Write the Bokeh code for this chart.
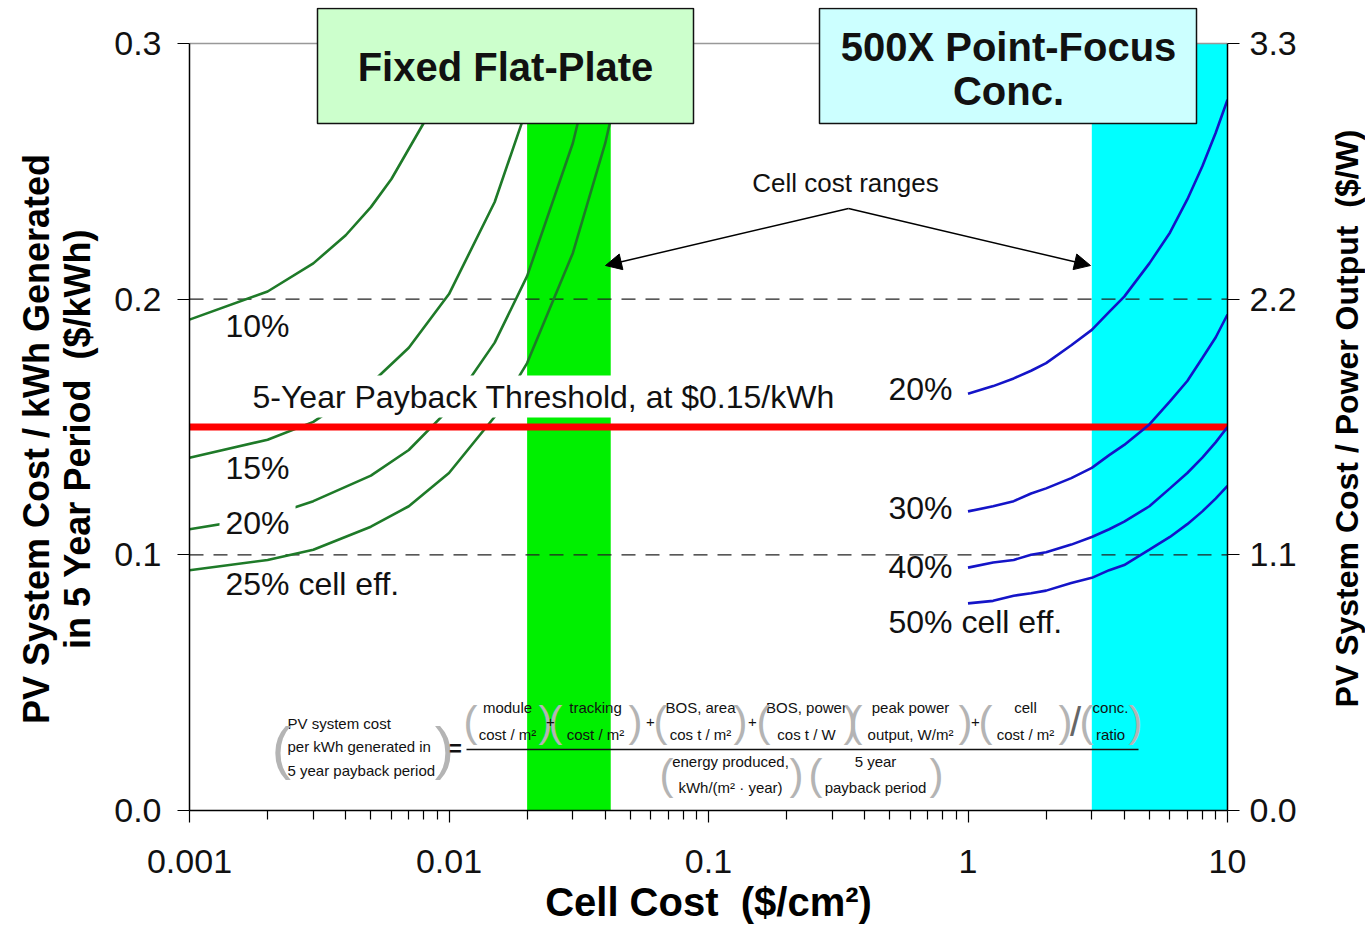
import math
from bokeh.plotting import figure
from bokeh.layouts import row
from bokeh.models import (Range1d, LinearAxis, FixedTicker, PrintfTickFormatter,
                          CustomJSTickFormatter, Label, Arrow, NormalHead)
from bokeh.embed import file_html
from bokeh.resources import INLINE

# ---------------- data ----------------
x_ticks = [0.001, 0.01, 0.1, 1, 10]
y_ticks_kwh = [0.0, 0.1, 0.2, 0.3]
y_ticks_w = [0.0, 1.1, 2.2, 3.3]

# Fixed flat-plate curves (cell cost $/cm2 -> $/kWh)
ff10_x = [0.001, 0.002, 0.003, 0.004, 0.005, 0.006, 0.008, 0.01]
ff10_y = [0.192, 0.203, 0.214, 0.225, 0.236, 0.247, 0.269, 0.291]
ff15_x = [0.001, 0.002, 0.003, 0.005, 0.007, 0.01, 0.015, 0.02, 0.025]
ff15_y = [0.138, 0.145, 0.152, 0.167, 0.181, 0.202, 0.238, 0.275, 0.311]
ff20_x = [0.001, 0.002, 0.003, 0.005, 0.007, 0.01, 0.015, 0.02, 0.03, 0.04]
ff20_y = [0.110, 0.115, 0.121, 0.131, 0.141, 0.157, 0.183, 0.209, 0.261, 0.313]
ff25_x = [0.001, 0.002, 0.003, 0.005, 0.007, 0.01, 0.015, 0.02, 0.03, 0.04, 0.05]
ff25_y = [0.094, 0.098, 0.102, 0.111, 0.119, 0.132, 0.154, 0.175, 0.218, 0.261, 0.304]

# 500X point-focus concentrator curves
conc_x = [1, 1.25, 1.5, 1.75, 2, 2.5, 3, 3.5, 4, 5, 6, 7, 8, 9, 10]
conc20_y = [0.163, 0.166, 0.169, 0.172, 0.175, 0.182, 0.188, 0.195, 0.201,
            0.214, 0.226, 0.239, 0.252, 0.265, 0.278]
conc30_y = [0.117, 0.119, 0.121, 0.124, 0.126, 0.130, 0.134, 0.139, 0.143,
            0.151, 0.160, 0.168, 0.177, 0.185, 0.194]
conc40_y = [0.095, 0.097, 0.098, 0.100, 0.101, 0.104, 0.107, 0.110, 0.113,
            0.119, 0.126, 0.132, 0.138, 0.144, 0.150]
conc50_y = [0.081, 0.082, 0.084, 0.085, 0.086, 0.089, 0.091, 0.094, 0.096,
            0.102, 0.107, 0.112, 0.117, 0.122, 0.127]

threshold = 0.15
ref_levels = [0.1, 0.2]
top_level = 0.3
ff_range = [0.02, 0.042]
conc_range = [3.0, 10.0]

# ---------------- layout helpers (reference pixel -> data) ----------------
FONT = "Liberation Sans"
NB = "\u00a0"
X0, X1 = 0.001, 10.0
PX_L, PX_R, PX_B, PX_T = 189, 1227, 810, 43
PX_DEC = (PX_R - PX_L) / 4.0
PX_UNIT = (PX_B - PX_T) / 0.3


def X(px):
    return 10 ** (math.log10(X0) + (px - PX_L) / PX_DEC)


def Y(py):
    return (PX_B - py) / PX_UNIT


FRAME_TOP = 7
BORDER_R = 80
BORDER_B = 115
YMAX = Y(FRAME_TOP)
TOTAL_H = FRAME_TOP + (PX_B - FRAME_TOP) + BORDER_B

p = figure(x_axis_type="log", x_range=Range1d(X0, X1), y_range=Range1d(0, YMAX),
           frame_width=PX_R - PX_L, frame_height=PX_B - FRAME_TOP,
           min_border_left=PX_L, min_border_right=BORDER_R, min_border_top=FRAME_TOP,
           min_border_bottom=BORDER_B,
           output_backend="svg", toolbar_location=None)
p.grid.visible = False
p.outline_line_color = None
p.background_fill_color = "white"
p.border_fill_color = "white"

# x axis
xa = p.xaxis[0]
minor = [k * d for d in [0.001, 0.01, 0.1, 1] for k in range(2, 10)]
xa.ticker = FixedTicker(ticks=x_ticks, minor_ticks=minor)
xa.formatter = CustomJSTickFormatter(code="return tick.toString();")
xa.axis_label = "Cell Cost" + NB + " ($/cm²)"
xa.axis_label_text_font = FONT
xa.axis_label_text_font_size = "40px"
xa.axis_label_text_font_style = "bold"
xa.axis_label_text_color = "black"
xa.axis_label_standoff = 4
xa.major_label_text_font = FONT
xa.major_label_text_font_size = "34px"
xa.major_label_text_color = "#111111"
xa.major_label_standoff = 27
xa.major_tick_out = 12
xa.major_tick_in = 0
xa.minor_tick_out = 9
xa.minor_tick_in = 0
xa.axis_line_width = 1.5
xa.major_tick_line_width = 1.2
xa.minor_tick_line_width = 1.2

# left axis
ya = p.yaxis[0]
ya.ticker = FixedTicker(ticks=y_ticks_kwh)
ya.formatter = PrintfTickFormatter(format="%.1f")
ya.bounds = (0, 0.3)
ya.major_label_text_font = FONT
ya.major_label_text_font_size = "34px"
ya.major_label_text_color = "#111111"
ya.major_label_standoff = 16
ya.major_tick_out = 12
ya.major_tick_in = 0
ya.minor_tick_out = 0
ya.minor_tick_in = 0
ya.axis_line_width = 1.5
ya.axis_label = ("PV System Cost / kWh Generated" + NB * 6 + "\n"
                 + "in 5 Year Period" + NB + " ($/kWh)" + NB * 6)
ya.axis_label_text_font = FONT
ya.axis_label_text_font_size = "36px"
ya.axis_label_text_font_style = "bold"
ya.axis_label_text_color = "black"
ya.axis_label_text_line_height = 1.0
ya.axis_label_standoff = 13

# right axis ($/W)
p.extra_y_ranges = {"pw": Range1d(0, YMAX * 11)}
ra = LinearAxis(y_range_name="pw", ticker=FixedTicker(ticks=y_ticks_w),
                formatter=PrintfTickFormatter(format="%.1f"), bounds=(0, 3.3))
ra.major_label_text_font = FONT
ra.major_label_text_font_size = "34px"
ra.major_label_text_color = "#111111"
ra.major_label_standoff = 10
ra.major_tick_out = 12
ra.major_tick_in = 0
ra.minor_tick_out = 0
ra.minor_tick_in = 0
ra.axis_line_width = 1.5
p.add_layout(ra, "right")

# bands
p.quad(left=[ff_range[0]], right=[ff_range[1]], bottom=[0], top=[top_level],
       fill_color="#00F000", line_color=None)
p.quad(left=[conc_range[0]], right=[conc_range[1]], bottom=[0], top=[top_level],
       fill_color="#00FFFF", line_color=None)

# reference lines
for lv in ref_levels:
    p.line([X0, X1], [lv, lv], line_color="#222222", line_width=1.3, line_dash="14 10")
p.line([X0, X1], [top_level, top_level], line_color="#999999", line_width=1.5)

GREEN = "#1E7A28"
BLUE = "#1414C8"
for xs, ys in [(ff10_x, ff10_y), (ff15_x, ff15_y), (ff20_x, ff20_y), (ff25_x, ff25_y)]:
    p.line(xs, ys, line_color=GREEN, line_width=2.6)

p.line([X0, X1], [threshold, threshold], line_color="#FF0000", line_width=7)

for ys in [conc20_y, conc30_y, conc40_y, conc50_y]:
    p.line(conc_x, ys, line_color=BLUE, line_width=2.6)

# title boxes
p.quad(left=[X(317)], right=[X(693)], top=[Y(8)], bottom=[Y(123)],
       fill_color="#CCFFCC", line_color="#111111", line_width=1.5)
p.quad(left=[X(819)], right=[X(1196)], top=[Y(8)], bottom=[Y(123)],
       fill_color="#CCFFFF", line_color="#111111", line_width=1.5)


def lab(px, py, text, size="32px", align="left", style="normal", color="#111111",
        angle=0.0, bg=None, pad=0, font=FONT):
    kw = dict(x=X(px), y=Y(py), text=text, text_font=font, text_font_size=size,
              text_align=align, text_baseline="middle", text_font_style=style,
              text_color=color, angle=angle)
    if bg is not None:
        kw["background_fill_color"] = bg
        kw["padding"] = pad
    p.add_layout(Label(**kw))


lab(505, 66, "Fixed Flat-Plate", size="40px", align="center", style="bold")
lab(1008, 46, "500X Point-Focus", size="40px", align="center", style="bold")
lab(1008, 90, "Conc.", size="40px", align="center", style="bold")

# threshold label
lab(249, 396, "5-Year Payback Threshold, at $0.15/kWh", size="32px", bg="white", pad=3)

# efficiency labels
lab(225, 325, "10%")
lab(225, 467, "15%")
lab(219, 522, "20%", bg="white", pad=6)
lab(225, 583, "25% cell eff.")
lab(888, 388, "20%")
lab(888, 507, "30%")
lab(888, 566, "40%")
lab(888, 621, "50% cell eff.")

# cell cost ranges + arrows
lab(845, 182, "Cell cost ranges", size="26px", align="center")
for ex in [605, 1090]:
    p.add_layout(Arrow(end=NormalHead(size=16, fill_color="black", line_color="black"),
                       x_start=X(848), y_start=Y(208), x_end=X(ex), y_end=Y(265),
                       line_width=1.5, line_color="black"))

# formula
FS = "15px"
PC = "#b4b4b4"
lab(287, 723, "PV system cost", size=FS)
lab(287, 746, "per kWh generated in", size=FS)
lab(287, 770, "5 year payback period", size=FS)
lab(281, 747, "(", size="58px", align="center", color=PC)
lab(444, 747, ")", size="58px", align="center", color=PC)
lab(455, 748, "=", size="22px", align="center", style="bold")
p.add_layout(Arrow(end=None, x_start=X(466), y_start=Y(749), x_end=X(1138), y_end=Y(749),
                   line_width=1.5, line_color="#111111"))

num_groups = [
    (507, 470, 545, "module", "cost / m²"),
    (595, 555, 635, "tracking", "cost / m²"),
    (700, 660, 740, "BOS, area", "cos t / m²"),
    (806, 763, 850, "BOS, power", "cos t / W"),
    (910, 855, 965, "peak power", "output, W/m²"),
    (1025, 985, 1065, "cell", "cost / m²"),
    (1110, 1086, 1135, "conc.", "ratio"),
]
for cx, lp, rp, t1, t2 in num_groups:
    lab(cx, 707, t1, size=FS, align="center")
    lab(cx, 734, t2, size=FS, align="center")
    lab(lp, 721, "(", size="42px", align="center", color=PC)
    lab(rp, 721, ")", size="42px", align="center", color=PC)
for px in [550, 650, 752, 975]:
    lab(px, 721, "+", size="15px", align="center")
lab(1075, 721, "/", size="40px", align="center", color="#666666")

den_groups = [
    (730, 666, 796, "energy produced,", "kWh/(m² · year)"),
    (875, 815, 936, "5 year", "payback period"),
]
for cx, lp, rp, t1, t2 in den_groups:
    lab(cx, 761, t1, size=FS, align="center")
    lab(cx, 787, t2, size=FS, align="center")
    lab(lp, 774, "(", size="42px", align="center", color=PC)
    lab(rp, 774, ")", size="42px", align="center", color=PC)

# ---------------- right-hand axis title strip ----------------
P_W = PX_R + BORDER_R
STRIP_W = 58
q = figure(width=STRIP_W, height=TOTAL_H, x_range=Range1d(0, STRIP_W),
           y_range=Range1d(0, TOTAL_H), min_border=0, output_backend="svg",
           toolbar_location=None)
q.axis.visible = False
q.grid.visible = False
q.outline_line_color = None
q.background_fill_color = "white"
q.border_fill_color = "white"
q.add_layout(Label(x=1346 - P_W, y=TOTAL_H - 423 - 51,
                   text="PV System Cost / Power Output" + NB + " ($/W)",
                   text_font=FONT, text_font_size="32px", text_font_style="bold",
                   text_color="black", text_align="center", text_baseline="middle",
                   angle=math.pi / 2))

layout = row(p, q, spacing=0)
open("out.html", "w").write(file_html(layout, INLINE))
